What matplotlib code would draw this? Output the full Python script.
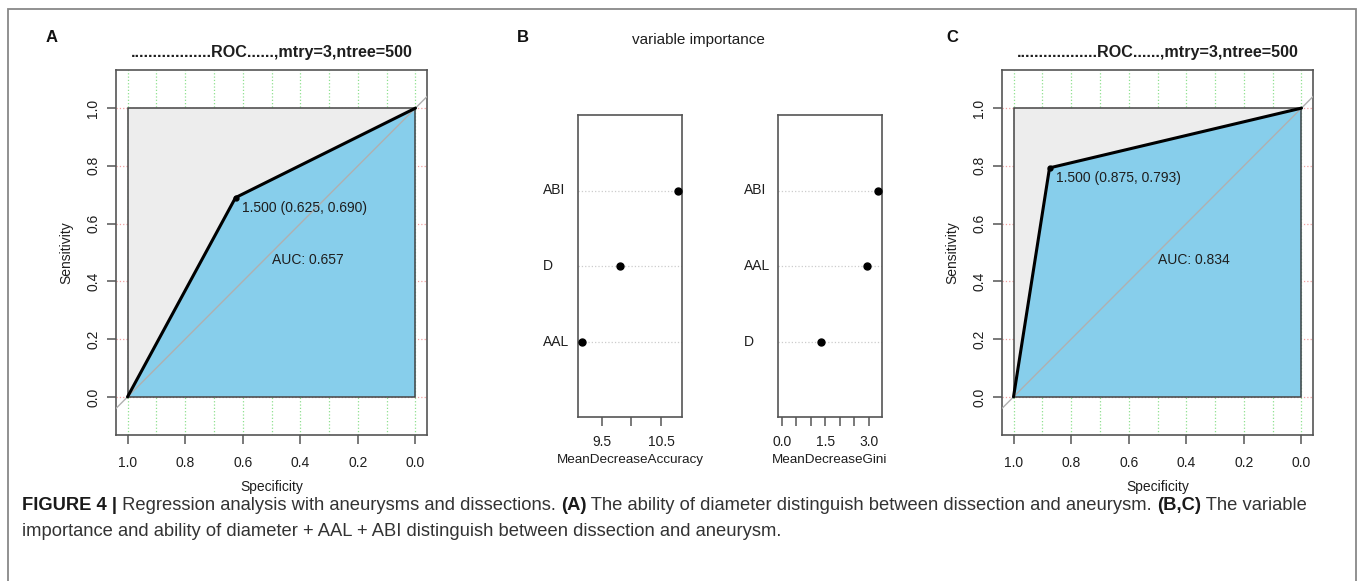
import numpy as np
import matplotlib.pyplot as plt
from matplotlib.patches import Polygon, Rectangle
from matplotlib.transforms import blended_transform_factory

W, H = 1360, 581
plt.rcParams['font.family'] = ['Liberation Sans', 'DejaVu Sans']

# ROC curves (specificity, sensitivity), best threshold is the middle point
roc_a_spec = [1.0, 0.625, 0.0]
roc_a_sens = [0.0, 0.690, 1.0]
roc_a_thr = 1.5
roc_a_auc = 0.657

roc_c_spec = [1.0, 0.875, 0.0]
roc_c_sens = [0.0, 0.793, 1.0]
roc_c_thr = 1.5
roc_c_auc = 0.834

roc_title = '..................ROC......,mtry=3,ntree=500'

# variable importance, listed bottom to top
acc_vars = ['AAL', 'D', 'ABI']
acc_vals = [9.17, 9.80, 10.78]
gini_vars = ['D', 'AAL', 'ABI']
gini_vals = [1.36, 2.94, 3.32]

caption_1 = [('FIGURE 4 |', 'bold'),
             (' Regression analysis with aneurysms and dissections. ', 'normal'),
             ('(A)', 'bold'),
             (' The ability of diameter distinguish between dissection and aneurysm. ', 'normal'),
             ('(B,C)', 'bold'),
             (' The variable', 'normal')]
caption_2 = [('importance and ability of diameter + AAL + ABI distinguish between dissection and aneurysm.', 'normal')]

fig = plt.figure(figsize=(W / 100, H / 100), dpi=100)

TXT = '#1e1e1e'
AXC = '#555555'


def px_axes(x0, y0, x1, y1):
    return fig.add_axes([x0 / W, 1 - y1 / H, (x1 - x0) / W, (y1 - y0) / H])


def style_box(ax):
    for s in ax.spines.values():
        s.set_color(AXC)
        s.set_linewidth(1.2)


def roc_panel(ax, spec, sens, thr, auc):
    ax.set_xlim(1.04, -0.04)
    ax.set_ylim(-0.132, 1.132)
    for gx in np.arange(0, 1.01, 0.1):
        ax.axvline(gx, color='#8ee08e', ls=':', lw=0.9, zorder=0)
    for gy in np.arange(0, 1.01, 0.2):
        ax.axhline(gy, color='#f0a0a0', ls=':', lw=0.9, zorder=0)
    box = [(1, 0), (1, 1), (0, 1), (0, 0)]
    ax.add_patch(Polygon(box, closed=True, fc='#ededed', ec='none', zorder=1))
    pts = [(1, 0)] + list(zip(spec, sens)) + [(0, 0)]
    ax.add_patch(Polygon(pts, closed=True, fc='skyblue', ec='none', zorder=2))
    ax.add_patch(Polygon(box, closed=True, fc='none', ec='#444444', lw=1.1, zorder=3))
    ax.axline((1, 0), (0, 1), color='#b0b0b0', lw=1.0, zorder=3)
    ax.plot(spec, sens, color='black', lw=2.2, zorder=4, solid_capstyle='round')
    i = 1
    ax.plot(spec[i], sens[i], 'o', color='black', ms=3.5, zorder=5)
    ax.annotate(f'{thr:.3f} ({spec[i]:.3f}, {sens[i]:.3f})', (spec[i], sens[i]),
                xytext=(6, -3), textcoords='offset pixels', ha='left', va='top',
                fontsize=10, color=TXT, zorder=6)
    ax.text(0.5, 0.5, f'AUC: {auc:.3f}', ha='left', va='top', fontsize=10,
            color=TXT, zorder=6)
    ticks = np.arange(0, 1.01, 0.2)
    ax.set_xticks(ticks, [f'{t:.1f}' for t in ticks])
    ax.set_yticks(ticks, [f'{t:.1f}' for t in ticks])
    ax.tick_params(direction='out', length=6.5, width=1.1, color=AXC,
                   labelsize=10, labelcolor=TXT)
    ax.tick_params(axis='x', pad=8.5)
    ax.tick_params(axis='y', pad=5, labelrotation=90)
    for lab in ax.get_yticklabels():
        lab.set_va('center')
    style_box(ax)
    ax.text(0.5, -0.142, 'Specificity', transform=ax.transAxes, ha='center',
            va='center', fontsize=10, color=TXT)
    ax.text(-0.161, 0.5, 'Sensitivity', transform=ax.transAxes, ha='center',
            va='center', rotation=90, fontsize=10, color=TXT)
    ax.text(0.5, 1.047, roc_title, transform=ax.transAxes, ha='center',
            va='center', fontsize=11.6, fontweight='bold', color=TXT)


def dot_panel(ax, names, vals, xlim, ticks, labels, xlabel, name_x):
    ax.set_xlim(*xlim)
    ax.set_ylim(0, len(vals) + 1)
    ys = np.arange(1, len(vals) + 1)
    for y in ys:
        ax.axhline(y, color='#cccccc', ls=':', lw=0.9, zorder=1)
    ax.plot(vals, ys, 'o', color='black', ms=5, zorder=3)
    trans = blended_transform_factory(ax.transAxes, ax.transData)
    for n, y in zip(names, ys):
        ax.text(name_x, y, n, transform=trans, ha='left', va='center',
                fontsize=10, color=TXT)
    ax.set_xticks(ticks, labels)
    ax.set_yticks([])
    ax.tick_params(direction='out', length=6.5, width=1.1, color=AXC,
                   labelsize=10, labelcolor=TXT, pad=6.5)
    style_box(ax)
    ax.text(0.5, -0.144, xlabel, transform=ax.transAxes, ha='center',
            va='center', fontsize=9.7, color=TXT)


ax_a = px_axes(116, 70, 427, 435)
roc_panel(ax_a, roc_a_spec, roc_a_sens, roc_a_thr, roc_a_auc)

ax_c = px_axes(1002, 70, 1313, 435)
roc_panel(ax_c, roc_c_spec, roc_c_sens, roc_c_thr, roc_c_auc)

ax_b1 = px_axes(578, 115, 682, 417)
rng = max(acc_vals) - min(acc_vals)
dot_panel(ax_b1, acc_vars, acc_vals,
          (min(acc_vals) - 0.04 * rng, max(acc_vals) + 0.04 * rng),
          [9.5, 10.0, 10.5], ['9.5', '', '10.5'], 'MeanDecreaseAccuracy', -0.334)

ax_b2 = px_axes(778, 115, 882, 417)
gmax = max(gini_vals)
dot_panel(ax_b2, gini_vars, gini_vals, (-0.04 * gmax, 1.04 * gmax),
          np.arange(0, 3.01, 0.5), ['0.0', '', '', '1.5', '', '', '3.0'],
          'MeanDecreaseGini', -0.33)

# panel letters and the middle title
fig.text(52 / W, 1 - 38 / H, 'A', fontsize=12, fontweight='bold', ha='center', va='center', color='#111111')
fig.text(523 / W, 1 - 38 / H, 'B', fontsize=12, fontweight='bold', ha='center', va='center', color='#111111')
fig.text(952 / W, 1 - 38 / H, 'C', fontsize=12, fontweight='bold', ha='center', va='center', color='#111111')
fig.text(698 / W, 1 - 40 / H, 'variable importance', fontsize=11, ha='center', va='center', color=TXT)

# outer frame
fig.patches.append(Rectangle((8 / W, -0.05), 1348 / W, 1.05 - 9 / H, transform=fig.transFigure,
                             fill=False, ec='#888888', lw=1.3))

# caption with bold pieces
renderer = fig.canvas.get_renderer()


def caption_line(pieces, y_px, size):
    x = 22
    for txt, weight in pieces:
        t = fig.text(x / W, 1 - y_px / H, txt, fontsize=size, fontweight=weight,
                     ha='left', va='center', color='#1a1a1a' if weight == 'bold' else '#333333')
        x += t.get_window_extent(renderer).width


caption_line(caption_1, 506, 13.2)
caption_line(caption_2, 532, 13.2)

fig.savefig('out.png', dpi=100)
